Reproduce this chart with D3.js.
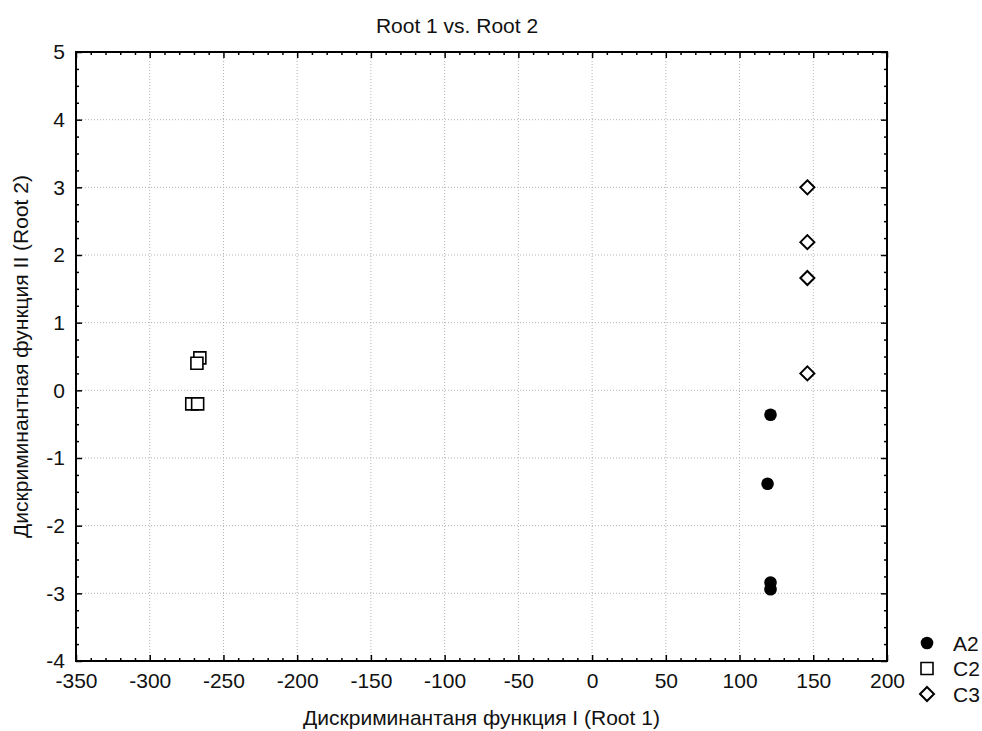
<!DOCTYPE html>
<html>
<head>
<meta charset="utf-8">
<script src="https://cdn.jsdelivr.net/npm/d3@7"></script>
<style>
  body { margin: 0; background: #fff; }
  text { font-family: "Liberation Sans", Arial, sans-serif; fill: #111; }
</style>
</head>
<body>
<div id="chart"></div>
<script>
// data
const groups = ["A2", "C2", "C3"];
const a2X = [121, 119, 121, 121];
const a2Y = [-0.36, -1.38, -2.84, -2.94];
const c2X = [-266, -268, -271.5, -267.5];
const c2Y = [0.48, 0.40, -0.20, -0.20];
const c3X = [146, 146, 146, 146];
const c3Y = [3.0, 2.19, 1.66, 0.25];

const xTicks = [-350, -300, -250, -200, -150, -100, -50, 0, 50, 100, 150, 200];
const yTicks = [-4, -3, -2, -1, 0, 1, 2, 3, 4, 5];

const title = "Root 1 vs. Root 2";
const xTitle = "Дискриминантаня функция I (Root 1)";
const yTitle = "Дискриминантная функция II (Root 2)";

const W = 982, H = 731;
const margin = { top: 52, right: 95, bottom: 70, left: 76 };
const width = W - margin.left - margin.right,
  height = H - margin.top - margin.bottom;
const fontSize = "21px";

const svg = d3
  .select("#chart")
  .append("svg")
  .attr("width", W)
  .attr("height", H);

const g = svg
  .append("g")
  .attr("transform", "translate(" + margin.left + "," + margin.top + ")");

const x = d3.scaleLinear().domain([-350, 200]).range([0, width]);
const y = d3.scaleLinear().domain([-4, 5]).range([height, 0]);

// minor ticks: 10 on x, 0.25 on y
const xMinor = d3.range(-350, 200.1, 10).filter(v => xTicks.indexOf(v) == -1);
const yMinor = d3.range(-4, 5.01, 0.25).filter(v => Math.abs(v - Math.round(v)) > 0.01);

// dotted grid
g.append("g")
  .selectAll("line")
  .data(xTicks.slice(1, -1))
  .enter()
  .append("line")
  .attr("x1", d => x(d))
  .attr("x2", d => x(d))
  .attr("y1", 0)
  .attr("y2", height)
  .attr("stroke", "#b4b4b4")
  .attr("stroke-dasharray", "1,2");
g.append("g")
  .selectAll("line")
  .data(yTicks.slice(1, -1))
  .enter()
  .append("line")
  .attr("x1", 0)
  .attr("x2", width)
  .attr("y1", d => y(d))
  .attr("y2", d => y(d))
  .attr("stroke", "#b4b4b4")
  .attr("stroke-dasharray", "1,2");

const fmt = d => (d < 0 ? "-" + Math.abs(d) : "" + d);

const styleAxis = sel => {
  sel.select(".domain").remove();
  sel.selectAll("line").attr("stroke", "#000").attr("stroke-width", 1.5);
  sel.selectAll("text").style("font-size", fontSize).attr("fill", "#111");
};

// bottom
g.append("g")
  .attr("transform", "translate(0," + height + ")")
  .call(d3.axisBottom(x).tickValues(xTicks).tickFormat(fmt).tickSize(-6).tickPadding(12))
  .call(styleAxis);
g.append("g")
  .attr("transform", "translate(0," + height + ")")
  .call(d3.axisBottom(x).tickValues(xMinor).tickFormat("").tickSize(-3))
  .call(styleAxis);
// top
g.append("g")
  .call(d3.axisTop(x).tickValues(xTicks).tickFormat("").tickSize(-6))
  .call(styleAxis);
g.append("g")
  .call(d3.axisTop(x).tickValues(xMinor).tickFormat("").tickSize(-3))
  .call(styleAxis);
// left
g.append("g")
  .call(d3.axisLeft(y).tickValues(yTicks).tickFormat(fmt).tickSize(-6).tickPadding(11))
  .call(styleAxis);
g.append("g")
  .call(d3.axisLeft(y).tickValues(yMinor).tickFormat("").tickSize(-3))
  .call(styleAxis);
// right
g.append("g")
  .attr("transform", "translate(" + width + ",0)")
  .call(d3.axisRight(y).tickValues(yTicks).tickFormat("").tickSize(-6))
  .call(styleAxis);
g.append("g")
  .attr("transform", "translate(" + width + ",0)")
  .call(d3.axisRight(y).tickValues(yMinor).tickFormat("").tickSize(-3))
  .call(styleAxis);

// frame
g.append("rect")
  .attr("width", width)
  .attr("height", height)
  .attr("fill", "none")
  .attr("stroke", "#000")
  .attr("stroke-width", 2);

// markers per group
const shapes = {
  A2: { type: d3.symbolCircle, size: 125, fill: "#000", sw: 0 },
  C2: { type: d3.symbolSquare, size: 144, fill: "#fff", sw: 1.6 },
  C3: { type: d3.symbolDiamond2, size: 125, fill: "#fff", sw: 2 }
};

const series = [
  { name: "A2", xs: a2X, ys: a2Y },
  { name: "C2", xs: c2X, ys: c2Y },
  { name: "C3", xs: c3X, ys: c3Y }
];

series.forEach(s => {
  const sh = shapes[s.name];
  g.append("g")
    .selectAll("path")
    .data(s.xs.map((v, i) => [v, s.ys[i]]))
    .enter()
    .append("path")
    .attr("transform", d => "translate(" + x(d[0]) + "," + y(d[1]) + ")")
    .attr("d", d3.symbol().type(sh.type).size(sh.size))
    .attr("fill", sh.fill)
    .attr("stroke", "#000")
    .attr("stroke-width", sh.sw);
});

// titles
svg.append("text")
  .attr("x", 457)
  .attr("y", 33)
  .attr("text-anchor", "middle")
  .style("font-size", fontSize)
  .text(title);

svg.append("text")
  .attr("x", margin.left + width / 2)
  .attr("y", 725)
  .attr("text-anchor", "middle")
  .style("font-size", fontSize)
  .text(xTitle);

svg.append("text")
  .attr("transform", "translate(28," + (margin.top + height / 2) + ") rotate(-90)")
  .attr("text-anchor", "middle")
  .style("font-size", fontSize)
  .text(yTitle);

// legend
const legend = svg.append("g").attr("transform", "translate(927,643)");
groups.forEach((name, i) => {
  const sh = shapes[name];
  legend.append("path")
    .attr("transform", "translate(0," + i * 25.5 + ")")
    .attr("d", d3.symbol().type(sh.type).size(sh.size))
    .attr("fill", sh.fill)
    .attr("stroke", "#000")
    .attr("stroke-width", sh.sw);
  legend.append("text")
    .attr("x", 26)
    .attr("y", i * 25.5)
    .attr("dy", "0.36em")
    .style("font-size", fontSize)
    .text(name);
});
</script>
</body>
</html>
